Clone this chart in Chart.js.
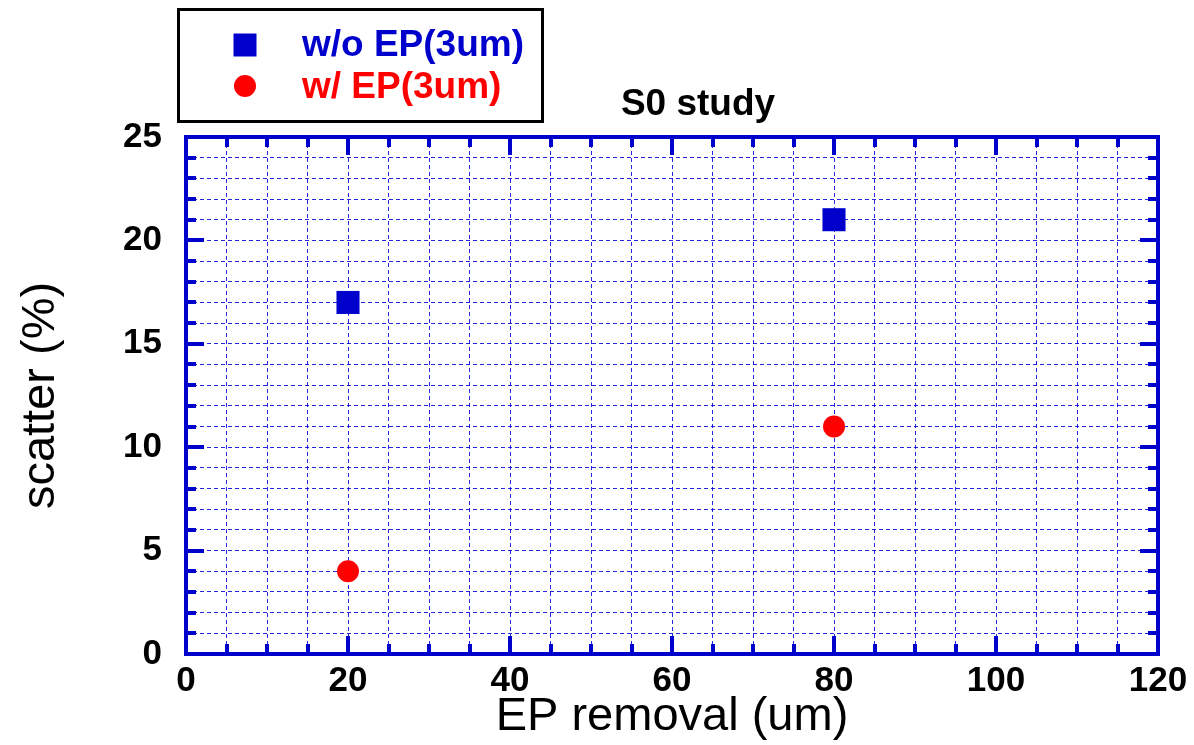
<!DOCTYPE html>
<html>
<head>
<meta charset="utf-8">
<script src="https://cdn.jsdelivr.net/npm/chart.js@4.4.1/dist/chart.umd.min.js"></script>
<style>
  html, body { margin: 0; padding: 0; background: #ffffff; }
  #c { display: block; }
</style>
</head>
<body>
<canvas id="c" width="1194" height="745"></canvas>
<script>
// ---- data ----
const xValues = [20, 80];                 // EP removal (um)
const seriesWoEP = [17, 21];              // w/o EP(3um) scatter (%)
const seriesWEP = [4, 11];                // w/ EP(3um) scatter (%)
const seriesNames = ['w/o EP(3um)', 'w/ EP(3um)'];
const xTickLabels = [0, 20, 40, 60, 80, 100, 120];
const yTickLabels = [0, 5, 10, 15, 20, 25];
const chartTitle = 'S0 study';
const xTitle = 'EP removal (um)';
const yTitle = 'scatter (%)';

const BLUE = '#0000cc';
const RED = '#ff0000';
const FONT = '"Liberation Sans", Arial, Helvetica, sans-serif';

function toPoints(xs, ys) { return xs.map((x, i) => ({ x: x, y: ys[i] })); }

const framePlugin = {
  id: 'framePlugin',
  afterDatasetsDraw(chart) {
    const ctx = chart.ctx;
    const a = chart.chartArea;
    const xs = chart.scales.x, ys = chart.scales.y;
    ctx.save();
    // inward ticks
    ctx.strokeStyle = BLUE;
    ctx.lineWidth = 4;
    ctx.lineCap = 'butt';
    for (let v = 5; v < 120; v += 5) {
      const px = Math.round(xs.getPixelForValue(v));
      const len = (v % 20 === 0) ? 18 : 10;
      ctx.beginPath();
      ctx.moveTo(px, a.bottom); ctx.lineTo(px, a.bottom - len);
      ctx.moveTo(px, a.top); ctx.lineTo(px, a.top + len);
      ctx.stroke();
    }
    for (let v = 1; v < 25; v += 1) {
      const py = Math.round(ys.getPixelForValue(v));
      const len = (v % 5 === 0) ? 18 : 10;
      ctx.beginPath();
      ctx.moveTo(a.left, py); ctx.lineTo(a.left + len, py);
      ctx.moveTo(a.right, py); ctx.lineTo(a.right - len, py);
      ctx.stroke();
    }
    // frame
    ctx.strokeRect(a.left, a.top, a.right - a.left, a.bottom - a.top);
    ctx.restore();
  },
  afterDraw(chart) {
    const ctx = chart.ctx;
    const a = chart.chartArea;
    ctx.save();
    // title
    ctx.fillStyle = '#000';
    ctx.font = 'bold 37px ' + FONT;
    ctx.textAlign = 'center';
    ctx.textBaseline = 'middle';
    ctx.fillText(chartTitle, (a.left + a.right) / 2 + 26, 105);
    // legend box
    ctx.strokeStyle = '#000';
    ctx.lineWidth = 3;
    ctx.strokeRect(178.5, 9.5, 364, 112);
    const ds = chart.data.datasets;
    // square marker
    ctx.fillStyle = ds[0].backgroundColor;
    ctx.fillRect(245 - 11.5, 45 - 11.5, 23, 23);
    // circle marker
    ctx.fillStyle = ds[1].backgroundColor;
    ctx.beginPath();
    ctx.arc(245, 86, 11, 0, Math.PI * 2);
    ctx.fill();
    ctx.font = 'bold 37px ' + FONT;
    ctx.textAlign = 'left';
    ctx.textBaseline = 'middle';
    ctx.fillStyle = ds[0].backgroundColor;
    ctx.fillText(ds[0].label, 302, 46);
    ctx.fillStyle = ds[1].backgroundColor;
    ctx.fillText(ds[1].label, 302, 88);
    ctx.restore();
  }
};

new Chart(document.getElementById('c'), {
  type: 'scatter',
  data: {
    datasets: [
      {
        label: seriesNames[0],
        data: toPoints(xValues, seriesWoEP),
        pointStyle: 'rect',
        pointRadius: 16.3,
        pointHoverRadius: 16.3,
        backgroundColor: BLUE,
        borderColor: BLUE,
        borderWidth: 0
      },
      {
        label: seriesNames[1],
        data: toPoints(xValues, seriesWEP),
        pointStyle: 'circle',
        pointRadius: 11,
        pointHoverRadius: 11,
        backgroundColor: RED,
        borderColor: RED,
        borderWidth: 0
      }
    ]
  },
  options: {
    responsive: false,
    animation: false,
    devicePixelRatio: 1,
    layout: { padding: { left: 0, right: 36, top: 137, bottom: 0 } },
    plugins: {
      legend: { display: false },
      title: { display: false },
      tooltip: { enabled: false }
    },
    scales: {
      x: {
        type: 'linear',
        min: 0, max: 120,
        afterFit: s => { s.height = 91; },
        afterBuildTicks: s => {
          const t = [];
          for (let v = 0; v <= 120; v += 5) t.push({ value: v });
          s.ticks = t;
        },
        ticks: {
          autoSkip: false,
          maxRotation: 0,
          padding: 6,
          color: '#000',
          font: { family: FONT, size: 35, weight: 'bold' },
          callback: v => xTickLabels.includes(v) ? String(v) : ''
        },
        grid: {
          drawTicks: false,
          color: 'rgba(0,0,220,0.85)',
          lineWidth: 1
        },
        border: { display: false, dash: [4, 3] },
        title: {
          display: true,
          text: xTitle,
          color: '#000',
          font: { family: FONT, size: 47, weight: 'normal', lineHeight: 1 },
          padding: { top: 0, bottom: 4 }
        }
      },
      y: {
        type: 'linear',
        min: 0, max: 25,
        afterFit: s => { s.width = 186; },
        afterBuildTicks: s => {
          const t = [];
          for (let v = 0; v <= 25; v += 1) t.push({ value: v });
          s.ticks = t;
        },
        ticks: {
          autoSkip: false,
          padding: 24,
          color: '#000',
          font: { family: FONT, size: 35, weight: 'bold' },
          callback: v => yTickLabels.includes(v) ? String(v) : ''
        },
        grid: {
          drawTicks: false,
          color: 'rgba(0,0,220,0.85)',
          lineWidth: 1
        },
        border: { display: false, dash: [4, 3] },
        title: {
          display: true,
          text: yTitle,
          color: '#000',
          font: { family: FONT, size: 47, weight: 'normal', lineHeight: 1 },
          padding: { top: 18, bottom: 0 }
        }
      }
    }
  },
  plugins: [framePlugin]
});
</script>
</body>
</html>
